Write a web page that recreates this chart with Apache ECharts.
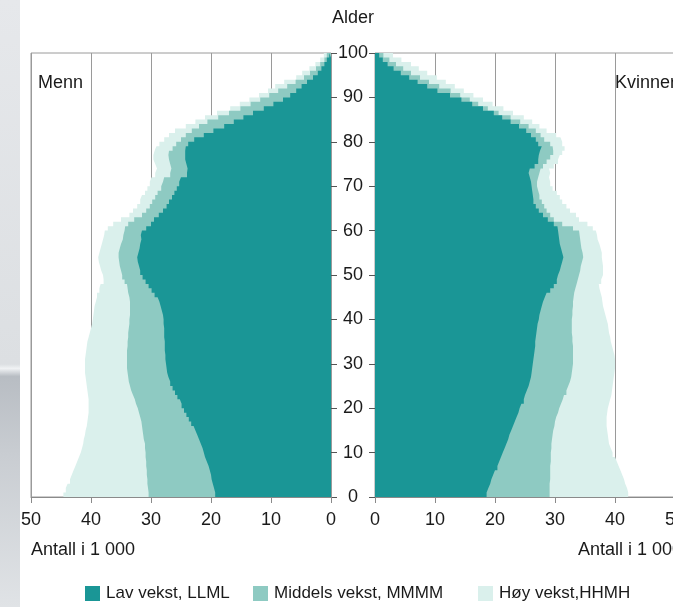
<!DOCTYPE html>
<html>
<head>
<meta charset="utf-8">
<script src="https://cdn.jsdelivr.net/npm/echarts@6/dist/echarts.min.js"></script>
<style>html,body{margin:0;padding:0;background:#fff}#c{width:673px;height:607px}</style>
</head>
<body>
<div id="c"></div>
<script>
// Age boundaries 0..100; each value holds for one year [age, age+1)
const ages = Array.from({length: 101}, (_, i) => String(i));
const seriesNames = ['Lav vekst, LLML', 'Middels vekst, MMMM', 'Høy vekst,HHMH'];

// Menn (1 000), age 0..99
const menLav = [19.3,19.5,19.7,19.9,20.0,20.2,20.4,20.7,21.0,21.2,
21.4,21.7,22.0,22.3,22.6,22.9,23.3,23.7,24.1,24.5,
24.9,25.2,25.6,26.0,26.4,26.8,27.1,27.3,27.4,27.5,
27.6,27.6,27.7,27.7,27.7,27.8,27.8,27.8,27.9,27.9,
28.0,28.2,28.4,28.6,28.9,29.4,29.9,30.4,30.9,31.4,
31.8,32.0,32.2,32.3,32.1,31.9,31.8,31.6,31.7,31.5,
30.8,30.0,29.5,28.7,28.0,27.4,27.0,26.5,26.1,25.7,
25.3,25.0,24.0,23.9,24.1,24.3,24.3,24.3,24.2,23.8,
22.8,21.2,19.6,17.8,16.2,14.6,13.0,11.2,9.6,8.0,
6.8,5.8,4.9,4.0,3.0,2.2,1.6,1.1,0.7,0.3];
const menMid = [30.4,30.5,30.6,30.6,30.7,30.7,30.8,30.8,30.9,30.9,
31.0,31.0,31.2,31.3,31.4,31.5,31.6,31.8,32.0,32.2,
32.5,32.7,33.0,33.3,33.5,33.7,33.8,33.9,34.0,34.0,
34.0,34.0,34.0,33.9,33.9,33.8,33.8,33.7,33.6,33.6,
33.5,33.5,33.5,33.5,33.6,33.8,33.9,34.0,34.4,34.8,
35.0,35.2,35.3,35.4,35.4,35.2,35.0,34.7,34.6,34.4,
34.3,33.8,32.8,31.5,30.8,30.2,29.8,29.3,28.9,28.3,
28.0,27.8,26.8,26.6,26.8,27.0,27.1,27.0,26.4,25.8,
25.0,24.2,23.2,22.0,20.6,18.8,17.0,15.1,13.4,11.8,
10.3,8.8,7.3,5.9,4.5,3.5,2.5,1.8,1.1,0.7];
const menHoy = [44.6,44.2,43.9,43.5,43.2,42.9,42.6,42.3,42.0,41.7,
41.5,41.3,41.2,41.0,40.9,40.7,40.6,40.5,40.4,40.4,
40.4,40.4,40.5,40.6,40.7,40.8,40.9,41.0,41.0,41.0,
41.0,40.9,40.8,40.7,40.6,40.4,40.2,40.0,39.8,39.7,
39.6,39.5,39.4,39.2,39.0,39.0,38.6,38.4,37.9,38.0,
38.3,38.5,38.7,38.8,38.6,38.4,38.2,38.0,37.8,37.7,
37.2,36.3,35.0,33.6,33.0,32.3,31.8,31.5,31.0,30.6,
30.2,29.9,29.3,29.0,29.3,29.6,29.6,29.4,29.1,28.6,
27.8,27.0,26.0,24.2,22.6,21.0,19.0,16.8,15.2,13.6,
12.0,10.5,9.3,7.8,5.8,4.8,3.6,2.6,1.8,1.2];

// Kvinner (1 000), age 0..99
const womLav = [18.6,18.9,19.2,19.4,19.7,20.0,20.4,20.7,21.0,21.3,
21.6,21.9,22.2,22.4,22.7,23.0,23.3,23.6,23.9,24.1,
24.4,24.8,25.0,25.3,25.6,25.8,26.0,26.1,26.2,26.3,
26.4,26.5,26.6,26.7,26.7,26.8,26.9,27.0,27.1,27.3,
27.4,27.6,27.8,28.0,28.3,28.6,29.2,29.8,30.3,30.5,
30.8,31.0,31.2,31.4,31.2,31.0,30.8,30.7,30.6,30.5,
30.4,29.8,28.8,28.0,27.3,26.8,26.4,26.3,26.2,26.1,
26.0,25.8,25.6,25.8,26.6,27.2,27.3,27.5,27.8,27.2,
26.8,26.0,25.2,24.0,22.6,21.2,19.8,18.0,16.2,14.4,
12.5,10.4,8.7,7.1,5.7,4.3,3.1,2.1,1.3,0.7];
const womMid = [29.1,29.1,29.1,29.2,29.2,29.2,29.2,29.3,29.3,29.3,
29.4,29.4,29.5,29.6,29.7,29.9,30.0,30.2,30.5,30.7,
31.0,31.3,31.5,31.9,32.2,32.5,32.7,32.8,32.9,33.0,
33.0,33.0,33.0,33.0,32.9,32.9,32.8,32.8,32.8,32.8,
32.9,32.9,33.0,33.0,33.1,33.2,33.4,33.6,33.8,34.0,
34.2,34.3,34.5,34.7,34.6,34.4,34.3,34.2,34.1,34.0,
33.0,31.2,29.8,29.2,28.6,28.2,27.8,27.4,27.2,27.0,
27.0,27.2,27.4,27.6,28.0,28.6,29.2,29.7,29.6,29.2,
28.2,27.6,26.8,25.6,24.2,22.6,20.6,18.8,17.2,15.8,
14.2,12.6,10.7,9.0,7.5,6.0,4.7,3.5,2.4,1.4];
const womHoy = [42.2,42.0,41.7,41.5,41.2,40.9,40.6,40.3,40.0,39.6,
39.3,39.0,38.9,38.8,38.7,38.6,38.6,38.6,38.7,38.8,
39.0,39.2,39.4,39.5,39.6,39.7,39.8,39.9,40.0,40.0,
40.0,39.9,39.7,39.5,39.3,39.2,39.0,38.9,38.8,38.6,
38.4,38.2,38.0,37.9,37.8,37.6,37.4,37.3,37.7,38.0,
38.0,38.0,37.9,37.8,37.8,37.6,37.4,37.1,37.0,36.8,
36.3,35.4,34.0,33.5,32.5,31.9,31.2,30.8,30.3,29.6,
29.2,29.0,29.2,29.0,29.8,30.5,30.8,31.2,31.6,31.2,
30.9,30.2,28.6,27.4,26.2,24.8,23.0,21.4,19.6,18.0,
16.4,14.8,13.3,11.8,10.3,8.7,7.3,6.0,4.4,3.0];

const colLav = '#1a9696';
const colMid = '#8ecac2';
const colHoy = '#daf0ec';
const FONT = 'Liberation Sans, Arial, sans-serif';

const chart = echarts.init(document.getElementById('c'), null, {renderer: 'canvas'});

function xAx(grid, inverse) {
  return {
    type: 'value', gridIndex: grid, min: 0, max: 50, interval: 10, inverse: inverse,
    position: 'bottom',
    axisLine: {show: true, lineStyle: {color: '#8a8a8a', width: 1}},
    axisTick: {show: true, length: 6, lineStyle: {color: '#8a8a8a'}},
    axisLabel: {color: '#1a1a1a', fontSize: 18, fontFamily: FONT, margin: 14},
    splitLine: {show: true, lineStyle: {color: '#9a9a9a', width: 1}}
  };
}
// Stepped area: each yearly value holds from age a to a+1 (last value closes the top at 100)
function area(name, values, color, xi, yi, z) {
  return {
    name: name, type: 'line', xAxisIndex: xi, yAxisIndex: yi,
    data: values.concat([values[values.length - 1]]),
    step: 'end', showSymbol: false, symbol: 'none', z: z, color: color,
    lineStyle: {width: 0, color: color},
    itemStyle: {color: color},
    areaStyle: {color: color, opacity: 1, origin: 'start'},
    emphasis: {disabled: true}, animation: false, silent: true
  };
}
function leg(name, left) {
  return {
    data: [name], left: left, top: 585, itemWidth: 15, itemHeight: 15,
    icon: 'rect', selectedMode: false, padding: 0,
    textStyle: {fontSize: 17, fontFamily: FONT, color: '#1a1a1a', padding: [0, 0, 0, 1]}
  };
}

chart.setOption({
  animation: false,
  backgroundColor: '#ffffff',
  graphic: [
    {type: 'rect', z: -10, shape: {x: 0, y: 0, width: 20, height: 607},
     style: {fill: new echarts.graphic.LinearGradient(0, 0, 0, 1, [
       {offset: 0, color: '#e6e8eb'}, {offset: 0.6, color: '#dcdfe2'},
       {offset: 0.607, color: '#f0f2f4'}, {offset: 0.62, color: '#b8bdc3'},
       {offset: 0.75, color: '#c9cdd2'}, {offset: 1, color: '#e0e3e6'}])}},
    {type: 'text', x: 353, y: 18, style: {text: 'Alder', fontSize: 18, fontFamily: FONT, fill: '#1a1a1a', textAlign: 'center', textVerticalAlign: 'middle'}},
    {type: 'text', x: 38, y: 83, style: {text: 'Menn', fontSize: 18, fontFamily: FONT, fill: '#1a1a1a', textAlign: 'left', textVerticalAlign: 'middle'}},
    {type: 'text', x: 615, y: 83, style: {text: 'Kvinner', fontSize: 18, fontFamily: FONT, fill: '#1a1a1a', textAlign: 'left', textVerticalAlign: 'middle'}},
    {type: 'text', x: 31, y: 550, style: {text: 'Antall i 1 000', fontSize: 18, fontFamily: FONT, fill: '#1a1a1a', textAlign: 'left', textVerticalAlign: 'middle'}},
    {type: 'text', x: 578, y: 550, style: {text: 'Antall i 1 000', fontSize: 18, fontFamily: FONT, fill: '#1a1a1a', textAlign: 'left', textVerticalAlign: 'middle'}}
  ],
  legend: [leg(seriesNames[0], 85), leg(seriesNames[1], 253), leg(seriesNames[2], 478)],
  grid: [
    {left: 31, top: 53, width: 300, height: 444, show: true, borderColor: '#9a9a9a', borderWidth: 1, backgroundColor: 'transparent', containLabel: false, outerBoundsMode: 'none'},
    {left: 375, top: 53, width: 300, height: 444, show: true, borderColor: '#9a9a9a', borderWidth: 1, backgroundColor: 'transparent', containLabel: false, outerBoundsMode: 'none'}
  ],
  xAxis: [xAx(0, true), xAx(1, false)],
  yAxis: [
    {type: 'category', gridIndex: 0, data: ages, boundaryGap: false, show: false},
    {type: 'value', gridIndex: 0, min: 0, max: 100, interval: 10, position: 'right',
     axisLine: {show: false}, axisTick: {show: true, length: 6, lineStyle: {color: '#555'}},
     axisLabel: {show: true, align: 'center', margin: 22, fontSize: 18, fontFamily: FONT, color: '#1a1a1a'},
     splitLine: {show: false}},
    {type: 'category', gridIndex: 1, data: ages, boundaryGap: false, show: false},
    {type: 'value', gridIndex: 1, min: 0, max: 100, interval: 10, position: 'left',
     axisLine: {show: false}, axisTick: {show: true, length: 6, lineStyle: {color: '#555'}},
     axisLabel: {show: false}, splitLine: {show: false}}
  ],
  series: [
    area(seriesNames[2], menHoy, colHoy, 0, 0, 2),
    area(seriesNames[1], menMid, colMid, 0, 0, 3),
    area(seriesNames[0], menLav, colLav, 0, 0, 4),
    area(seriesNames[2], womHoy, colHoy, 1, 2, 2),
    area(seriesNames[1], womMid, colMid, 1, 2, 3),
    area(seriesNames[0], womLav, colLav, 1, 2, 4)
  ]
});
</script>
</body>
</html>
